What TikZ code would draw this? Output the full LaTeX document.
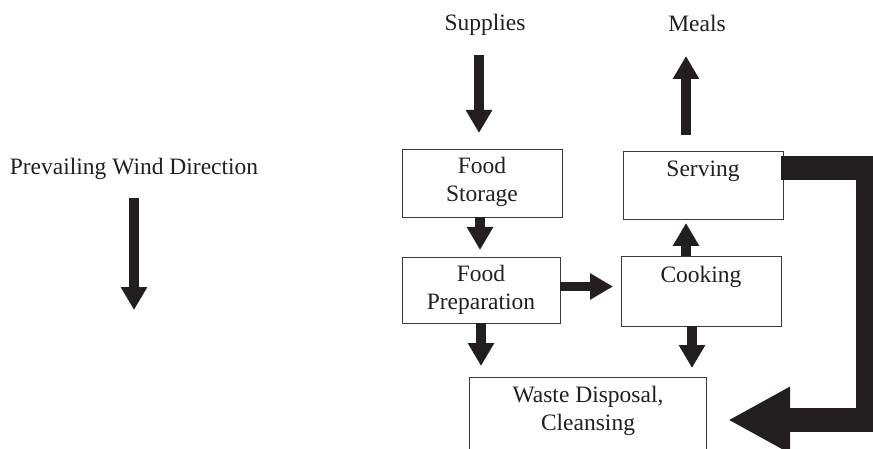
\documentclass[tikz,border=0pt]{standalone}
\usepackage{fontspec}
\setmainfont{Liberation Serif}
\usetikzlibrary{arrows.meta}
\definecolor{arrc}{HTML}{231F20}
\definecolor{boxc}{HTML}{3A3A3A}
\begin{document}
\begin{tikzpicture}[x=1pt,y=-1pt,
  box/.style={draw=boxc, line width=0.9pt, inner sep=0pt, outer sep=0pt, anchor=north west},
  lbl/.style={font=\fontsize{23.5}{28}\selectfont, text=arrc, inner sep=0pt, anchor=base},
  blk/.style={draw=arrc, line width=9.5pt, line cap=butt, -{Triangle[width=25pt,length=23pt]}},
  bigblk/.style={draw=arrc, line width=24pt, line cap=butt, line join=miter, -{Triangle[width=62pt,length=62pt]}}]
\useasboundingbox (0,0) rectangle (873,449);
\clip (0,0) rectangle (873,449);

% boxes
\node[box, minimum width=160pt, minimum height=68pt] (stor) at (402,149) {};
\node[box, minimum width=158pt, minimum height=66pt] (prep) at (402,257) {};
\node[box, minimum width=160pt, minimum height=68pt] (serv) at (623,151) {};
\node[box, minimum width=160pt, minimum height=70pt] (cook) at (621,256) {};
\node[box, minimum width=237pt, minimum height=90pt] (waste) at (469,377) {};

% labels
\node[lbl] (wind) at (134,175) {Prevailing Wind Direction};
\node[lbl] (sup) at (485,31) {Supplies};
\node[lbl] (meals) at (697,32) {Meals};
\node[lbl] (storA) at (482,174) {Food};
\node[lbl] (storB) at (482,202) {Storage};
\node[lbl] (prepA) at (481,281) {Food};
\node[lbl] (prepB) at (481,309) {Preparation};
\node[lbl] (servA) at (703,177) {Serving};
\node[lbl] (cookA) at (701,282) {Cooking};
\node[lbl] (wasteA) at (588,402) {Waste Disposal,};
\node[lbl] (wasteB) at (588,430) {Cleansing};

% free ends
\coordinate (windA) at (134,198);
\coordinate (windB) at (134,310);
\coordinate (supA) at (479,55);
\coordinate (mealsTip) at (686,56);
\coordinate (lt1) at (868,168.5);
\coordinate (lt2) at (868,420);
\coordinate (ltEnd) at (728,420);

% arrows
\draw[blk] (windA) -- (windB);
\draw[blk, shorten >=16pt] (supA) -- (supA |- stor.north);
\draw[blk, shorten <=16pt] ([xshift=-17pt]serv.north) -- (mealsTip);
\draw[blk, shorten >=7pt] ([xshift=-2pt]stor.south) -- ([xshift=-2pt]stor.south |- prep.north);
\draw[blk, shorten >=8pt] ([yshift=3.5pt]prep.east) -- ([yshift=3.5pt]prep.east -| cook.west);
\draw[blk, shorten >=4pt] ([xshift=-15pt]cook.north) -- ([xshift=-15pt]cook.north |- serv.south);
\draw[blk, shorten >=11pt] (prep.south) -- (prep.south |- waste.north);
\draw[blk, shorten >=9pt] ([xshift=-9pt]cook.south) -- ([xshift=-9pt]cook.south |- waste.north);
\draw[bigblk] ([xshift=-2pt]serv.east |- lt1) -- (lt1) -- (lt2) -- (ltEnd);
\end{tikzpicture}
\end{document}
